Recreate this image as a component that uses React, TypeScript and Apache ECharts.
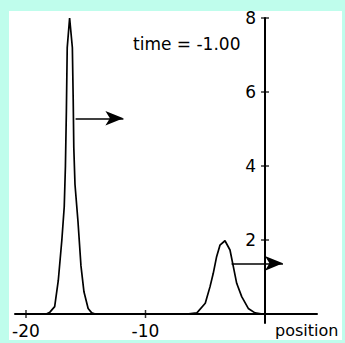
import React, { useEffect, useRef } from "react";
import * as echarts from "echarts";

const peak1X = [-18.3, -18.0, -17.6, -17.3, -17.0, -16.8, -16.7, -16.62, -16.55, -16.35, -16.12, -16.05, -16.0, -15.9, -15.65, -15.4, -15.15, -14.8, -14.5, -14.2];
const peak1Y = [0, 0.05, 0.2, 0.9, 2.0, 2.9, 4.0, 5.5, 7.2, 8.0, 7.2, 5.8, 4.5, 3.5, 2.5, 1.3, 0.6, 0.15, 0.03, 0];
const peak2X = [-6.55, -5.7, -5.0, -4.6, -4.33, -4.05, -3.77, -3.35, -2.93, -2.65, -2.37, -1.95, -1.4, -0.84, -0.2];
const peak2Y = [0, 0.03, 0.29, 0.74, 1.1, 1.55, 1.86, 1.98, 1.73, 1.28, 0.83, 0.47, 0.15, 0.03, 0];
const arrow1 = { x0: -15.85, x1: -11.85, y: 5.29 };
const arrow2 = { x0: -2.8, x1: 1.5, y: 1.37 };
const xTicks = [-20, -10];
const yTicks = [2, 4, 6, 8];
const xName = "position";
const timeLabel = "time = -1.00";

const FONT = "DejaVu Sans";

export default function App() {
  const ref = useRef<HTMLDivElement>(null);
  useEffect(() => {
    if (!ref.current) return;
    const chart = echarts.init(ref.current, null, { renderer: "svg" });
    const zip = (xs: number[], ys: number[]) => xs.map((x, i) => [x, ys[i]]);
    const arrowLine = (a: { x0: number; x1: number; y: number }) => [
      { coord: [a.x0, a.y] },
      { coord: [a.x1, a.y] },
    ];
    chart.setOption({
      animation: false,
      grid: { left: 15, right: 28, top: 18, bottom: 20, containLabel: false, outerBoundsMode: "none" },
      xAxis: {
        type: "value",
        min: -20.92,
        max: 4.35,
        position: "bottom",
        offset: -9,
        splitLine: { show: false },
        axisLine: { onZero: false, lineStyle: { color: "#000", width: 2 } },
        axisTick: { show: false },
        axisLabel: {
          customValues: xTicks,
          color: "#000",
          fontFamily: FONT,
          fontSize: 17,
          margin: 8,
          formatter: (v: number) => String(v),
        },
      },
      yAxis: {
        type: "value",
        min: -0.243,
        max: 8,
        position: "left",
        offset: -250,
        splitLine: { show: false },
        axisLine: { onZero: false, lineStyle: { color: "#000", width: 2 } },
        axisTick: { show: false },
        axisLabel: {
          customValues: yTicks,
          color: "#000",
          fontFamily: FONT,
          fontSize: 17,
          margin: 9,
        },
      },
      graphic: [
        {
          type: "text",
          left: 133,
          top: 35,
          style: { text: timeLabel, fill: "#000", font: `17px "${FONT}"` },
        },
        {
          type: "text",
          left: 275,
          top: 322,
          style: { text: xName, fill: "#000", font: `16px "${FONT}"` },
        },
      ],
      series: [
        {
          type: "line",
          data: zip(peak1X, peak1Y),
          showSymbol: false,
          lineStyle: { color: "#000", width: 1.7 },
          markLine: {
            silent: true,
            symbol: ["none", "arrow"],
            symbolSize: [11, 18],
            label: { show: false },
            lineStyle: { color: "#000", width: 1.5, type: "solid" },
            data: [arrowLine(arrow1), arrowLine(arrow2)],
          },
        },
        {
          type: "line",
          data: zip(peak2X, peak2Y),
          showSymbol: false,
          lineStyle: { color: "#000", width: 1.7 },
        },
        {
          type: "scatter",
          data: xTicks.map((x) => [x, 0]),
          symbol: "rect",
          symbolSize: [1.5, 8],
          itemStyle: { color: "#000" },
          silent: true,
        },
        {
          type: "scatter",
          data: yTicks.map((y) => [0, y]),
          symbol: "rect",
          symbolSize: [8, 1.5],
          itemStyle: { color: "#000" },
          silent: true,
        },
      ],
    });
    return () => chart.dispose();
  }, []);
  return (
    <div style={{ position: "fixed", left: 0, top: 0, width: 345, height: 343, background: "#bffdec" }}>
      <div style={{ position: "absolute", left: 9, top: 11, width: 333, height: 329, background: "#fff" }} />
      <div ref={ref} style={{ position: "absolute", left: 0, top: 0, width: 345, height: 343 }} />
    </div>
  );
}
